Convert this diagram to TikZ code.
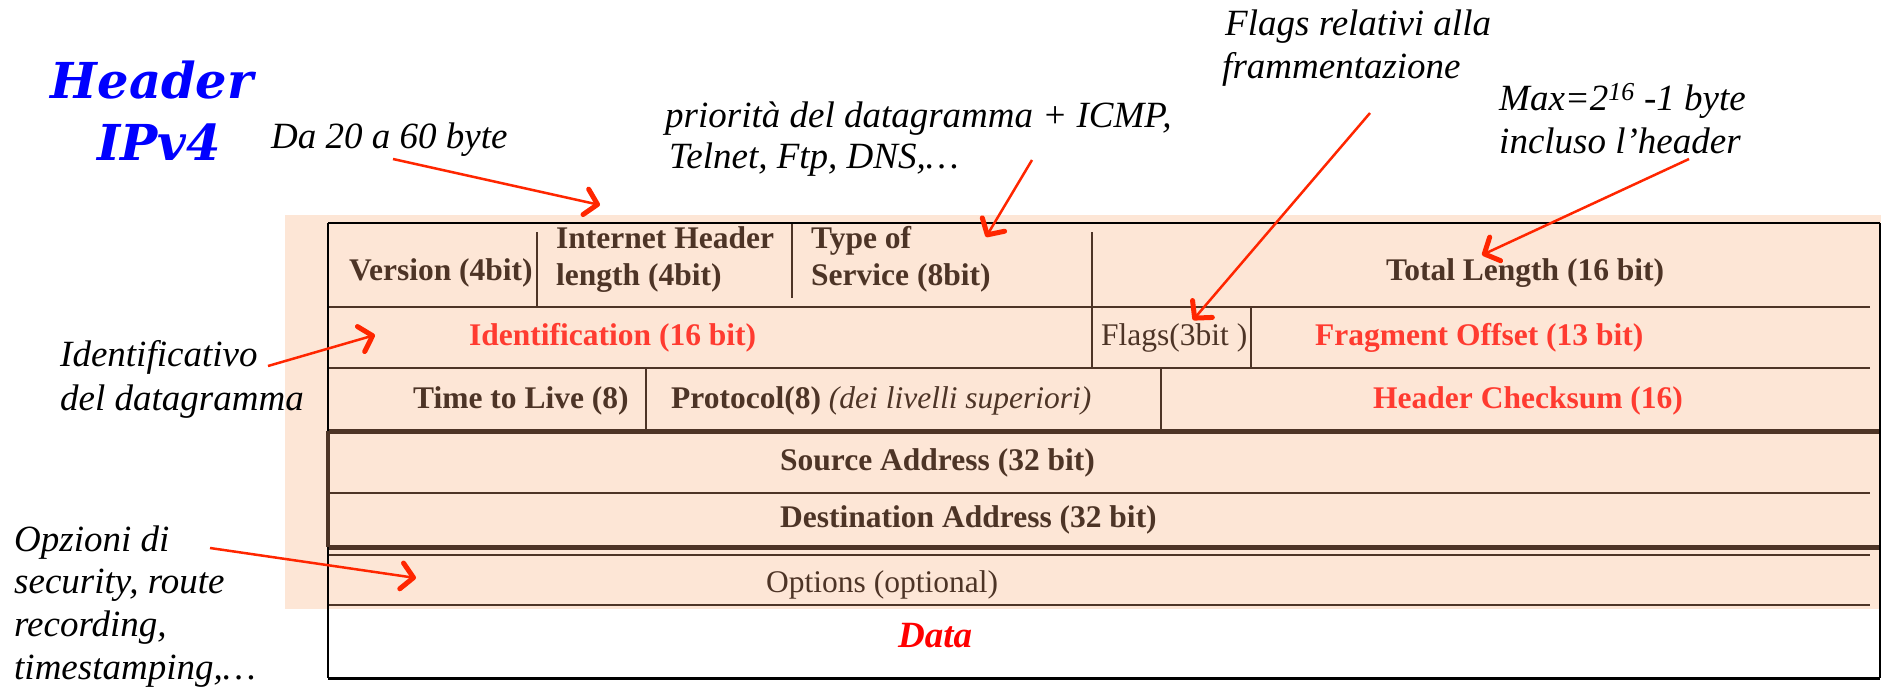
\documentclass[tikz,border=0pt]{standalone}
\usepackage{fontspec}
\setmainfont{Liberation Serif}
\newfontfamily\titlefont{DejaVu Serif}
\usetikzlibrary{arrows.meta}

\definecolor{peach}{RGB}{253,230,214}
\definecolor{rule}{RGB}{77,52,38}
\definecolor{fieldred}{RGB}{255,59,48}
\definecolor{noteline}{RGB}{255,38,0}
\definecolor{titleblue}{RGB}{0,0,255}
\definecolor{datared}{RGB}{255,0,0}

\tikzset{
  field/.style={anchor=base west, inner sep=0pt, text=rule,
    font=\fontsize{31.5}{37}\selectfont\bfseries},
  keyfield/.style={field, text=fieldred},
  plainfield/.style={anchor=base west, inner sep=0pt, text=rule,
    font=\fontsize{31.5}{37}\selectfont},
  note/.style={anchor=base west, inner sep=0pt, text=black,
    font=\fontsize{37}{43}\selectfont\itshape},
  titletext/.style={anchor=base, inner sep=0pt, text=titleblue,
    font=\fontsize{49.5}{60}\titlefont\bfseries\itshape},
  pointer/.style={draw=noteline, line width=2.5pt,
    -{Straight Barb[length=12pt,width=26pt,line width=5pt,round]}},
  sep/.style={draw=rule, line width=1.6pt},
  rowline/.style={draw=rule, line width=2.4pt},
  heavyline/.style={draw=rule, line width=5pt},
  frame/.style={draw=black, line width=2.4pt},
}

\begin{document}
\begin{tikzpicture}[x=1pt,y=-1pt]
\useasboundingbox (0,0) rectangle (1881,688);

% header area background
\fill[peach] (285,215) rectangle (1881,609);

% vertical separators between fields
\path[sep] (537,232) -- (537,307);
\path[sep] (792,223) -- (792,298);
\path[sep] (1092,232) -- (1092,368);
\path[sep] (1251,307) -- (1251,368);
\path[sep] (646,368) -- (646,431);
\path[sep] (1161,368) -- (1161,431);

% row separators
\path[rowline] (328,307) -- (1870,307);
\path[rowline] (328,368) -- (1870,368);
\path[heavyline] (328,431) -- (1880,431);
\path[rowline] (328,493) -- (1870,493);
\path[heavyline] (328,547) -- (1880,547);
\path[rowline] (328,555) -- (1870,555);
\path[rowline] (328,605) -- (1870,605);

% outer frame
\path[frame] (328,223) -- (1880,223);
\path[frame] (1880,223) -- (1880,678);
\path[frame, line width=3pt] (328,678) -- (1880,678);
\path[frame, line width=2pt] (328,223) -- (328,678);
\path[draw=rule, line width=4.5pt] (328,431) -- (328,547);

% field labels
\node[field] (version) at (349,280) {Version (4bit)};
\node[field] (ihl1) at (556,248) {Internet Header};
\node[field] (ihl2) at (556,285) {length (4bit)};
\node[field] (tos1) at (811,248) {Type of};
\node[field] (tos2) at (811,285) {Service (8bit)};
\node[field] (totlen) at (1386,280) {Total Length (16 bit)};
\node[keyfield] (ident) at (469,345) {Identification (16 bit)};
\node[plainfield] (flags) at (1101,345) {Flags(3bit )};
\node[keyfield] (fragoff) at (1315,345) {Fragment Offset (13 bit)};
\node[field] (ttl) at (413,408) {Time to Live (8)};
\node[field] (proto) at (671,408) {Protocol(8) \mdseries\itshape(dei livelli superiori)};
\node[keyfield] (checksum) at (1373,408) {Header Checksum (16)};
\node[field] (srcaddr) at (780,470) {Source Address (32 bit)};
\node[field] (dstaddr) at (780,527) {Destination Address (32 bit)};
\node[plainfield] (options) at (766,592) {Options (optional)};
\node[anchor=base west, inner sep=0pt, text=datared,
  font=\fontsize{37}{43}\selectfont\bfseries\itshape] (data) at (898,647) {Data};

% title
\node[titletext] (title1) at (152,98) {Header};
\node[titletext] (title2) at (159,160) {IPv4};

% annotations
\node[note] (dalen) at (271,148) {Da 20 a 60 byte};
\node[note] (prio1) at (665,127) {priorità del datagramma + ICMP,};
\node[note] (prio2) at (669,168) {Telnet, Ftp, DNS,…};
\node[note] (frag1) at (1225,35) {Flags relativi alla};
\node[note] (frag2) at (1222,78) {frammentazione};
\node[note] (max1) at (1499,110) {Max=2\textsuperscript{16} -1 byte};
\node[note] (max2) at (1499,153) {incluso l’header};
\node[note] (id1) at (60,366) {Identificativo};
\node[note] (id2) at (60,410) {del datagramma};
\node[note] (opt1) at (14,551) {Opzioni di};
\node[note] (opt2) at (14,593) {security, route};
\node[note] (opt3) at (14,636) {recording,};
\node[note] (opt4) at (14,679) {timestamping,…};

% pointer ends
\coordinate (dalenFrom) at (393,159);
\coordinate (dalenTo) at (600,205);
\coordinate (prioFrom) at (1032,160);
\coordinate (prioTo) at (986,237);
\coordinate (fragFrom) at (1370,113);
\coordinate (fragTo) at (1193,320);
\coordinate (maxFrom) at (1689,159);
\coordinate (maxTo) at (1482,255);
\coordinate (idFrom) at (268,366);
\coordinate (idTo) at (375,335);
\coordinate (optFrom) at (210,548);
\coordinate (optTo) at (416,578);

\path[pointer] (dalenFrom) -- (dalenTo);
\path[pointer] (prioFrom) -- (prioTo);
\path[pointer] (fragFrom) -- (fragTo);
\path[pointer] (maxFrom) -- (maxTo);
\path[pointer] (idFrom) -- (idTo);
\path[pointer] (optFrom) -- (optTo);
\end{tikzpicture}
\end{document}
